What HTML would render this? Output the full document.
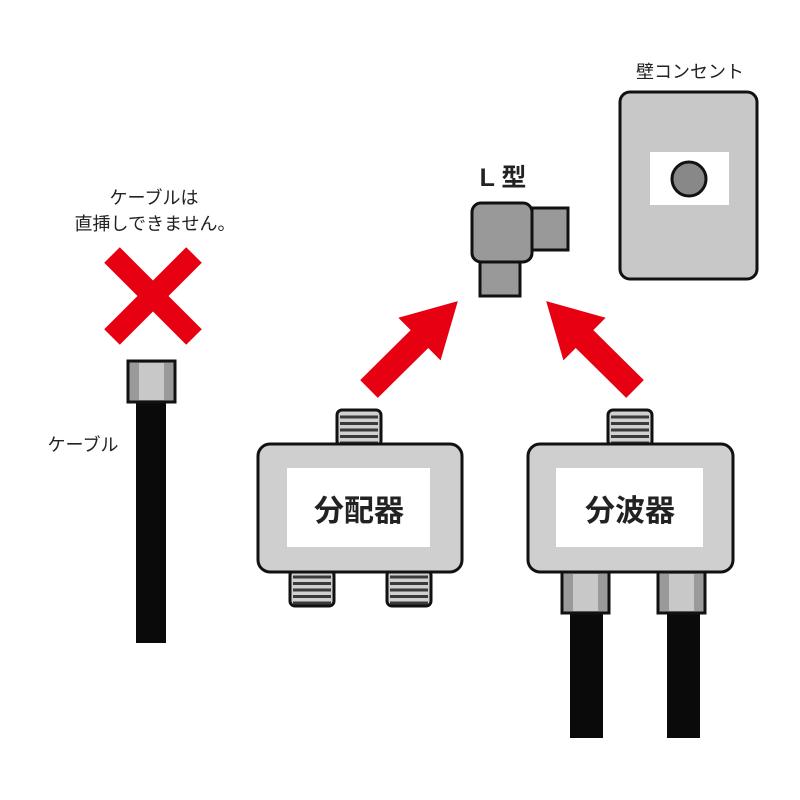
<!DOCTYPE html>
<html><head><meta charset="utf-8"><style>
html,body{margin:0;padding:0;background:#fff;}
svg{display:block;}
text{font-family:"Liberation Sans","Noto Sans CJK JP",sans-serif;}
</style></head><body>
<svg width="800" height="800" viewBox="0 0 800 800" xmlns="http://www.w3.org/2000/svg">
<defs>
<g id="thread">
  <rect x="0" y="0" width="44" height="36" rx="5" fill="#d0d0d0" stroke="#111" stroke-width="3"/>
  <g stroke="#3a3a3a" stroke-width="3">
    <line x1="3" y1="7" x2="41" y2="7"/><line x1="3" y1="13.5" x2="41" y2="13.5"/>
    <line x1="3" y1="20" x2="41" y2="20"/><line x1="3" y1="26.5" x2="41" y2="26.5"/>
    <line x1="3" y1="33" x2="41" y2="33"/>
  </g>
</g>
<g id="plug">
  <rect x="0" y="0" width="47" height="41" fill="#9a9a9a" stroke="#111" stroke-width="3"/>
  <rect x="11" y="2" width="25" height="37" fill="#c8c8c8"/>
</g>
<polygon id="arrow" points="0,-12.5 71,-12.5 71,-30 125,0 71,30 71,12.5 0,12.5" fill="#e60012"/>
</defs>

<!-- wall outlet -->
<text x="690" y="78" font-size="18" text-anchor="middle" fill="#222">壁コンセント</text>
<rect x="620" y="92" width="137" height="187" rx="10" fill="#c8c8c8" stroke="#111" stroke-width="3"/>
<rect x="650" y="152" width="79" height="53" fill="#fff"/>
<circle cx="689" cy="179" r="17" fill="#888" stroke="#111" stroke-width="3"/>

<!-- L type -->
<text x="503" y="186" font-size="25" font-weight="bold" text-anchor="middle" fill="#222">L 型</text>
<rect x="532" y="208" width="36" height="42" fill="#999" stroke="#111" stroke-width="3"/>
<rect x="480" y="258" width="40" height="38" fill="#999" stroke="#111" stroke-width="3"/>
<rect x="472" y="203" width="60" height="59" rx="9" fill="#999" stroke="#111" stroke-width="3"/>

<!-- arrows -->
<use href="#arrow" transform="translate(369,389) rotate(-44.7)"/>
<use href="#arrow" transform="translate(635,389) rotate(-135.3)"/>

<!-- cable no -->
<text x="154" y="204" font-size="18" text-anchor="middle" fill="#222">ケーブルは</text>
<text x="155" y="230" font-size="18" text-anchor="middle" fill="#222">直挿しできません。</text>
<g stroke="#e60012" stroke-width="22">
  <line x1="112" y1="255" x2="194" y2="337"/>
  <line x1="194" y1="255" x2="112" y2="337"/>
</g>
<rect x="136" y="400" width="30" height="243" fill="#0a0a0a"/>
<use href="#plug" transform="translate(128,361)"/>
<text x="83" y="451" font-size="18" text-anchor="middle" fill="#222">ケーブル</text>

<!-- splitter 1 -->
<use href="#thread" transform="translate(337,410)"/>
<use href="#thread" transform="translate(290,570)"/>
<use href="#thread" transform="translate(387,570)"/>
<rect x="258" y="444" width="204" height="128" rx="12" fill="#cfcfcf" stroke="#111" stroke-width="3"/>
<rect x="287" y="468" width="143" height="79" fill="#fff"/>
<text x="359" y="521" font-size="30" font-weight="bold" text-anchor="middle" fill="#222">分配器</text>

<!-- splitter 2 -->
<use href="#thread" transform="translate(608,410)"/>
<rect x="570" y="610" width="33" height="128" fill="#0a0a0a"/>
<rect x="667" y="610" width="33" height="128" fill="#0a0a0a"/>
<use href="#plug" transform="translate(562,572)"/>
<use href="#plug" transform="translate(658,572)"/>
<rect x="528" y="444" width="205" height="128" rx="12" fill="#cfcfcf" stroke="#111" stroke-width="3"/>
<rect x="556" y="468" width="147" height="79" fill="#fff"/>
<text x="630" y="521" font-size="30" font-weight="bold" text-anchor="middle" fill="#222">分波器</text>
</svg>
</body></html>
